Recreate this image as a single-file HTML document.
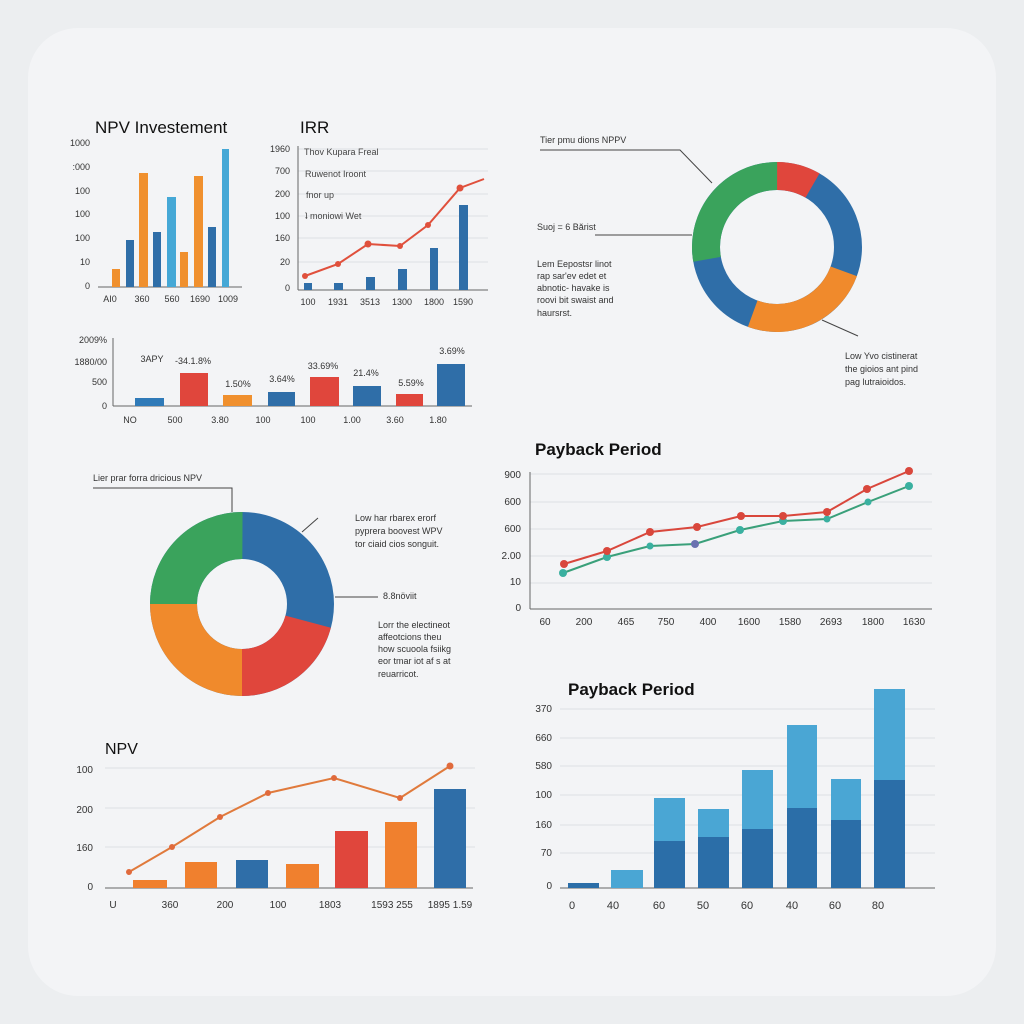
<!DOCTYPE html>
<html><head><meta charset="utf-8"><style>
html,body{margin:0;padding:0;background:#eceef0;}
svg{display:block;font-family:"Liberation Sans",sans-serif;}
</style></head><body>
<svg width="1024" height="1024" viewBox="0 0 1024 1024" xmlns="http://www.w3.org/2000/svg">
<rect width="1024" height="1024" fill="#eceef0"/>
<rect x="28" y="28" width="968" height="968" rx="50" fill="#f3f4f6"/>

<!-- NPV Investement -->
<text x="95" y="133" font-size="17" fill="#111">NPV Investement</text>
<g font-size="9" fill="#333" text-anchor="end">
<text x="90" y="146">1000</text><text x="90" y="170">:000</text><text x="90" y="194">100</text><text x="90" y="217">100</text><text x="90" y="241">100</text><text x="90" y="265">10</text><text x="90" y="289">0</text></g>
<line x1="98" y1="287" x2="242" y2="287" stroke="#666" stroke-width="1"/>
<rect x="112" y="269" width="8" height="18" fill="#f0902e"/>
<rect x="126" y="240" width="8" height="47" fill="#2f6ea8"/>
<rect x="139" y="173" width="9" height="114" fill="#f0902e"/>
<rect x="153" y="232" width="8" height="55" fill="#2f6ea8"/>
<rect x="167" y="197" width="9" height="90" fill="#45a8d6"/>
<rect x="180" y="252" width="8" height="35" fill="#f0902e"/>
<rect x="194" y="176" width="9" height="111" fill="#f0902e"/>
<rect x="208" y="227" width="8" height="60" fill="#2f6ea8"/>
<rect x="222" y="149" width="7" height="138" fill="#45a8d6"/>
<g font-size="9" fill="#333" text-anchor="middle">
<text x="110" y="302">AI0</text><text x="142" y="302">360</text><text x="172" y="302">560</text><text x="200" y="302">1690</text><text x="228" y="302">1009</text></g>

<!-- IRR -->
<text x="300" y="133" font-size="17" fill="#111">IRR</text>
<g stroke="#dde0e4" stroke-width="1">
<line x1="298" y1="149" x2="488" y2="149"/><line x1="298" y1="171" x2="488" y2="171"/><line x1="298" y1="194" x2="488" y2="194"/><line x1="298" y1="216" x2="488" y2="216"/><line x1="298" y1="238" x2="488" y2="238"/><line x1="298" y1="262" x2="488" y2="262"/></g>
<line x1="298" y1="146" x2="298" y2="290" stroke="#666"/>
<line x1="298" y1="290" x2="488" y2="290" stroke="#666"/>
<g font-size="9" fill="#333" text-anchor="end">
<text x="290" y="152">1960</text><text x="290" y="174">700</text><text x="290" y="197">200</text><text x="290" y="219">100</text><text x="290" y="241">160</text><text x="290" y="265">20</text><text x="290" y="291">0</text></g>
<g font-size="9" fill="#444">
<text x="304" y="155">Thov Kupara Freal</text><text x="305" y="177">Ruwenot Iroont</text><text x="306" y="198">fnor up</text><text x="305" y="219">ʇ moniowi Wet</text></g>
<rect x="304" y="283" width="8" height="7" fill="#2f6ea8"/>
<rect x="334" y="283" width="9" height="7" fill="#2f6ea8"/>
<rect x="366" y="277" width="9" height="13" fill="#2f6ea8"/>
<rect x="398" y="269" width="9" height="21" fill="#2f6ea8"/>
<rect x="430" y="248" width="8" height="42" fill="#2f6ea8"/>
<rect x="459" y="205" width="9" height="85" fill="#2f6ea8"/>
<polyline points="305,276 338,264 368,244 400,246 428,225 460,188 484,179" fill="none" stroke="#e0503c" stroke-width="2"/>
<g fill="#e0503c"><circle cx="305" cy="276" r="3"/><circle cx="338" cy="264" r="3"/><circle cx="368" cy="244" r="3.5"/><circle cx="400" cy="246" r="3"/><circle cx="428" cy="225" r="3"/><circle cx="460" cy="188" r="3.5"/></g>
<g font-size="9" fill="#333" text-anchor="middle">
<text x="308" y="305">100</text><text x="338" y="305">1931</text><text x="370" y="305">3513</text><text x="402" y="305">1300</text><text x="434" y="305">1800</text><text x="463" y="305">1590</text></g>

<!-- strip bar chart -->
<line x1="113" y1="338" x2="113" y2="406" stroke="#666"/>
<line x1="113" y1="406" x2="472" y2="406" stroke="#666"/>
<g font-size="9" fill="#333" text-anchor="end">
<text x="107" y="343">2009%</text><text x="107" y="365">1880/00</text><text x="107" y="385">500</text><text x="107" y="409">0</text></g>
<rect x="135" y="398" width="29" height="8" fill="#2f7ab8"/>
<rect x="180" y="373" width="28" height="33" fill="#e0463c"/>
<rect x="223" y="395" width="29" height="11" fill="#f0902e"/>
<rect x="268" y="392" width="27" height="14" fill="#2f6ea8"/>
<rect x="310" y="377" width="29" height="29" fill="#e0463c"/>
<rect x="353" y="386" width="28" height="20" fill="#2f6ea8"/>
<rect x="396" y="394" width="27" height="12" fill="#e0463c"/>
<rect x="437" y="364" width="28" height="42" fill="#2f6ea8"/>
<g font-size="9" fill="#333" text-anchor="middle">
<text x="152" y="362">3APY</text><text x="193" y="364">-34.1.8%</text><text x="238" y="387">1.50%</text><text x="282" y="382">3.64%</text><text x="323" y="369">33.69%</text><text x="366" y="376">21.4%</text><text x="411" y="386">5.59%</text><text x="452" y="354">3.69%</text>
<text x="130" y="423">NO</text><text x="175" y="423">500</text><text x="220" y="423">3.80</text><text x="263" y="423">100</text><text x="308" y="423">100</text><text x="352" y="423">1.00</text><text x="395" y="423">3.60</text><text x="438" y="423">1.80</text></g>

<!-- top right donut -->
<g transform="translate(777,247)">
<circle r="71" fill="none" stroke="#2f6ea8" stroke-width="28"/>
<circle r="71" fill="none" stroke="#e0463c" stroke-width="28" stroke-dasharray="37.2 500" transform="rotate(-90)"/>
<circle r="71" fill="none" stroke="#f08a2c" stroke-width="28" stroke-dasharray="111.5 500" transform="rotate(20)"/>
<circle r="71" fill="none" stroke="#3aa35c" stroke-width="28" stroke-dasharray="124 500" transform="rotate(170)"/>
</g>
<polyline points="540,150 680,150 712,183" fill="none" stroke="#444" stroke-width="1"/>
<line x1="595" y1="235" x2="692" y2="235" stroke="#444"/>
<line x1="822" y1="320" x2="858" y2="336" stroke="#444"/>
<g font-size="9" fill="#333">
<text x="540" y="143">Tier pmu dions  NPPV</text><text x="537" y="230">Suoj = 6 Bărist</text>
<text x="537" y="267">Lem  Eepostsr linot</text><text x="537" y="279">rap sar'ev edet et</text><text x="537" y="291">abnotic- havake is</text><text x="537" y="303">roovi  bit swaist  and</text><text x="537" y="316">haursrst.</text>
<text x="845" y="359">Low Yvo cistinerat</text><text x="845" y="372">the gioios ant pind</text><text x="845" y="385">pag lutraioidos.</text></g>

<!-- mid-left donut -->
<g transform="translate(242,604)">
<circle r="68.5" fill="none" stroke="#2f6ea8" stroke-width="47"/>
<circle r="68.5" fill="none" stroke="#e0463c" stroke-width="47" stroke-dasharray="90 500" transform="rotate(15)"/>
<circle r="68.5" fill="none" stroke="#f08a2c" stroke-width="47" stroke-dasharray="108 500" transform="rotate(90)"/>
<circle r="68.5" fill="none" stroke="#3aa35c" stroke-width="47" stroke-dasharray="108 500" transform="rotate(180)"/>
</g>
<polyline points="93,488 232,488 232,512" fill="none" stroke="#444"/>
<line x1="302" y1="532" x2="318" y2="518" stroke="#444"/>
<line x1="335" y1="597" x2="378" y2="597" stroke="#444"/>
<g font-size="9" fill="#333">
<text x="93" y="481">Lier prar forra dricious  NPV</text>
<text x="355" y="521">Low  har rbarex erorf</text><text x="355" y="534">pyprera boovest  WPV</text><text x="355" y="547">tor ciaid cios songuit.</text>
<text x="383" y="599">8.8növiit</text>
<text x="378" y="628">Lorr  the electineot</text><text x="378" y="640">affeotcions theu</text><text x="378" y="652">how scuoola fsiikg</text><text x="378" y="664">eor tmar iot af s at</text><text x="378" y="677">reuarricot.</text></g>

<!-- Payback line -->
<text x="535" y="455" font-size="17" font-weight="bold" fill="#111">Payback Period</text>
<g stroke="#dde0e4"><line x1="530" y1="474" x2="932" y2="474"/><line x1="530" y1="502" x2="932" y2="502"/><line x1="530" y1="529" x2="932" y2="529"/><line x1="530" y1="556" x2="932" y2="556"/><line x1="530" y1="583" x2="932" y2="583"/></g>
<line x1="530" y1="472" x2="530" y2="609" stroke="#666"/>
<line x1="530" y1="609" x2="932" y2="609" stroke="#666"/>
<g font-size="10" fill="#333" text-anchor="end">
<text x="521" y="478">900</text><text x="521" y="505">600</text><text x="521" y="532">600</text><text x="521" y="559">2.00</text><text x="521" y="585">10</text><text x="521" y="611">0</text></g>
<polyline points="563,573 607,557 650,546 695,544 740,530 783,521 827,519 868,502 909,486" fill="none" stroke="#3aa07a" stroke-width="2"/>
<polyline points="564,564 607,551 650,532 697,527 741,516 783,516 827,512 867,489 909,471" fill="none" stroke="#d9473c" stroke-width="2"/>
<g fill="#3ab0a0"><circle cx="563" cy="573" r="4"/><circle cx="607" cy="557" r="4"/><circle cx="650" cy="546" r="3.5"/><circle cx="740" cy="530" r="4"/><circle cx="783" cy="521" r="4"/><circle cx="827" cy="519" r="3.5"/><circle cx="868" cy="502" r="3.5"/><circle cx="909" cy="486" r="4"/></g>
<circle cx="695" cy="544" r="4" fill="#6a72b0"/>
<g fill="#d9473c"><circle cx="564" cy="564" r="4"/><circle cx="607" cy="551" r="4"/><circle cx="650" cy="532" r="4"/><circle cx="697" cy="527" r="4"/><circle cx="741" cy="516" r="4"/><circle cx="783" cy="516" r="4"/><circle cx="827" cy="512" r="4"/><circle cx="867" cy="489" r="4"/><circle cx="909" cy="471" r="4"/></g>
<g font-size="10" fill="#333" text-anchor="middle">
<text x="545" y="625">60</text><text x="584" y="625">200</text><text x="626" y="625">465</text><text x="666" y="625">750</text><text x="708" y="625">400</text><text x="749" y="625">1600</text><text x="790" y="625">1580</text><text x="831" y="625">2693</text><text x="873" y="625">1800</text><text x="914" y="625">1630</text></g>

<!-- NPV bottom left -->
<text x="105" y="754" font-size="16" fill="#111">NPV</text>
<g stroke="#dde0e4"><line x1="105" y1="768" x2="475" y2="768"/><line x1="105" y1="808" x2="475" y2="808"/><line x1="105" y1="847" x2="475" y2="847"/></g>
<line x1="105" y1="888" x2="473" y2="888" stroke="#666"/>
<g font-size="10" fill="#333" text-anchor="end">
<text x="93" y="773">100</text><text x="93" y="813">200</text><text x="93" y="851">160</text><text x="93" y="890">0</text></g>
<rect x="133" y="880" width="34" height="8" fill="#f0802e"/>
<rect x="185" y="862" width="32" height="26" fill="#f0802e"/>
<rect x="236" y="860" width="32" height="28" fill="#2f6ea8"/>
<rect x="286" y="864" width="33" height="24" fill="#f0802e"/>
<rect x="335" y="831" width="33" height="57" fill="#e0463c"/>
<rect x="385" y="822" width="32" height="66" fill="#f0802e"/>
<rect x="434" y="789" width="32" height="99" fill="#2f6ea8"/>
<polyline points="129,872 172,847 220,817 268,793 334,778 400,798 450,766" fill="none" stroke="#e07a3c" stroke-width="2"/>
<g fill="#e06a3c"><circle cx="129" cy="872" r="3"/><circle cx="172" cy="847" r="3"/><circle cx="220" cy="817" r="3"/><circle cx="268" cy="793" r="3"/><circle cx="334" cy="778" r="3"/><circle cx="400" cy="798" r="3"/><circle cx="450" cy="766" r="3.5"/></g>
<g font-size="10" fill="#333" text-anchor="middle">
<text x="113" y="908">U</text><text x="170" y="908">360</text><text x="225" y="908">200</text><text x="278" y="908">100</text><text x="330" y="908">1803</text><text x="392" y="908">1593  255</text><text x="450" y="908">1895  1.59</text></g>

<!-- Payback bars -->
<text x="568" y="695" font-size="17" font-weight="bold" fill="#111">Payback Period</text>
<g stroke="#dde0e4"><line x1="560" y1="709" x2="935" y2="709"/><line x1="560" y1="738" x2="935" y2="738"/><line x1="560" y1="766" x2="935" y2="766"/><line x1="560" y1="795" x2="935" y2="795"/><line x1="560" y1="825" x2="935" y2="825"/><line x1="560" y1="853" x2="935" y2="853"/></g>
<line x1="560" y1="888" x2="935" y2="888" stroke="#666"/>
<g font-size="10" fill="#333" text-anchor="end">
<text x="552" y="712">370</text><text x="552" y="741">660</text><text x="552" y="769">580</text><text x="552" y="798">100</text><text x="552" y="828">160</text><text x="552" y="856">70</text><text x="552" y="889">0</text></g>
<g fill="#4aa6d4">
<rect x="611" y="870" width="32" height="18"/><rect x="654" y="798" width="31" height="90"/><rect x="698" y="809" width="31" height="79"/><rect x="742" y="770" width="31" height="118"/><rect x="787" y="725" width="30" height="163"/><rect x="831" y="779" width="30" height="109"/><rect x="874" y="689" width="31" height="199"/></g>
<g fill="#2b6ea8">
<rect x="568" y="883" width="31" height="5"/><rect x="654" y="841" width="31" height="47"/><rect x="698" y="837" width="31" height="51"/><rect x="742" y="829" width="31" height="59"/><rect x="787" y="808" width="30" height="80"/><rect x="831" y="820" width="30" height="68"/><rect x="874" y="780" width="31" height="108"/></g>
<g font-size="11" fill="#333" text-anchor="middle">
<text x="572" y="909">0</text><text x="613" y="909">40</text><text x="659" y="909">60</text><text x="703" y="909">50</text><text x="747" y="909">60</text><text x="792" y="909">40</text><text x="835" y="909">60</text><text x="878" y="909">80</text></g>
</svg>
</body></html>
